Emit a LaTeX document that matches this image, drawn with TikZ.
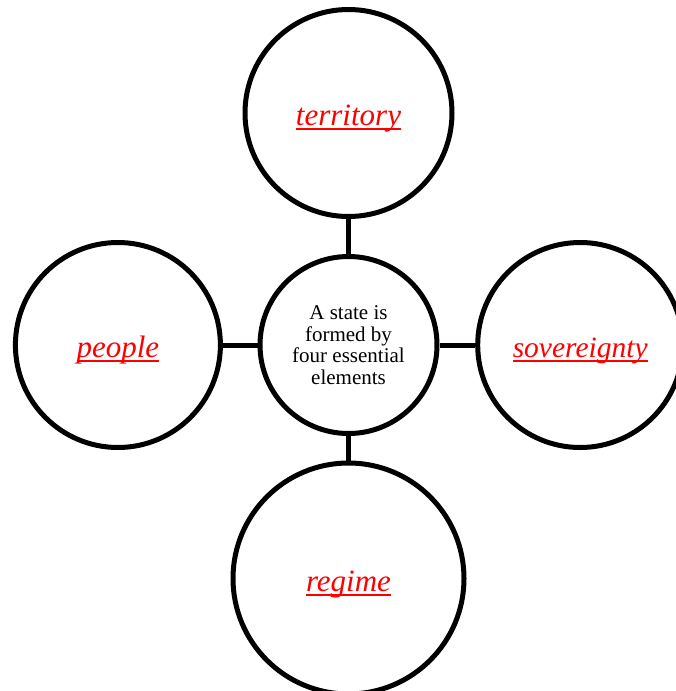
\documentclass[tikz,border=0pt]{standalone}
\usepackage{fontspec}
\setmainfont{Liberation Serif}
\usetikzlibrary{positioning}

\newcommand{\undl}[1]{\setbox0\hbox{#1}\rlap{\rule[-4.5pt]{\wd0}{1.8pt}}\box0}

\tikzset{
  bubble/.style={draw, circle, line width=5pt, inner sep=0pt},
  elem/.style={bubble, text=red, font=\fontsize{31}{36}\selectfont\itshape, text height=29pt, text depth=4pt},
  link/.style={line width=5pt}
}

\begin{document}
\begin{tikzpicture}
  \useasboundingbox (0,0) rectangle (675pt,-691pt);
  % centre circle
  \node[bubble, minimum size=177pt, align=center, font=\fontsize{21}{21.7}\selectfont] (hub) at (348.5pt,-345pt) {A state is\\formed by\\four essential\\elements};
  % the four elements
  \node[elem, minimum size=207pt, above=35pt of hub] (terr) {\undl{territory}};
  \node[elem, minimum size=205pt, left=34.6pt of hub] (people) {\undl{people}};
  \node[elem, minimum size=205pt, right=35.7pt of hub, font=\fontsize{29.5}{34}\selectfont\itshape] (sov) {\undl{sovereignty}};
  \node[elem, minimum size=231pt, below=24.5pt of hub] (regime) {\undl{regime}};
  \draw[link] (hub) -- (terr);
  \draw[link] (hub) -- (people);
  \draw[link] (hub) -- (sov);
  \draw[link] (hub) -- (regime);
\end{tikzpicture}
\end{document}
